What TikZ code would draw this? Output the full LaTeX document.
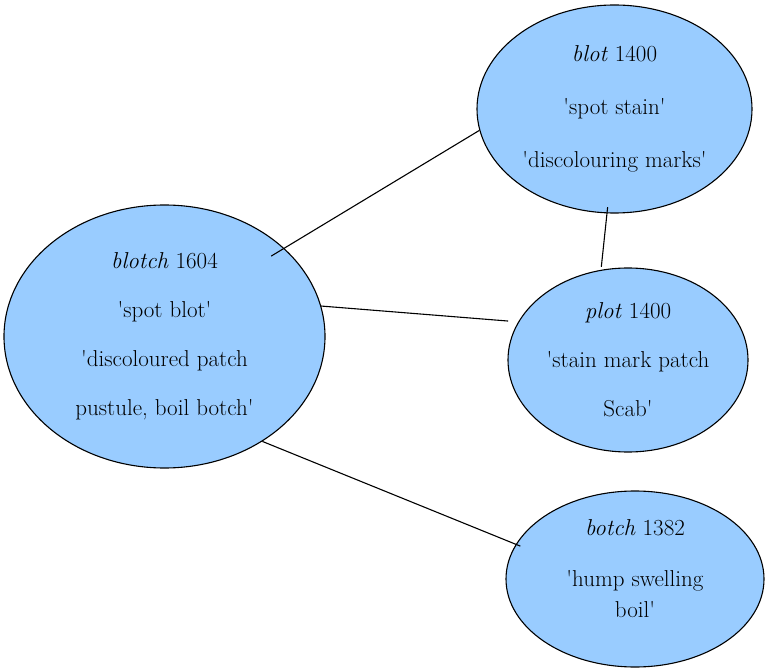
\documentclass[tikz,border=0pt]{standalone}
\usepackage{tikz}
\usepackage{xcolor}
\usetikzlibrary{shapes.geometric, positioning, calc}

\definecolor{wordblue}{HTML}{99CCFF}
\newcommand{\q}{\textquotesingle}

\begin{document}
\begin{tikzpicture}[on grid, line width=1.1pt,
    word/.style={ellipse, draw, fill=wordblue, inner sep=0pt, align=center,
        font=\fontsize{23}{49}\selectfont}]

    \useasboundingbox (-164.5pt,-332.5pt) rectangle (600.5pt,336.5pt);

    \node[word, minimum width=321pt, minimum height=263pt] (blotch)
        {\textit{blotch} 1604\\\q spot blot\q\\\q discoloured patch\\pustule, boil botch\q};
    \node[word, minimum width=275pt, minimum height=208pt,
        font=\fontsize{23}{53}\selectfont,
        above right=227.5pt and 450pt of blotch] (blot)
        {\textit{blot} 1400\\\q spot stain\q\\\q discolouring marks\q};
    \node[word, minimum width=240pt, minimum height=184pt,
        below right=23.5pt and 463.5pt of blotch] (plot)
        {\textit{plot} 1400\\\q stain mark patch\\Scab\q};
    \node[word, minimum width=258pt, minimum height=176pt,
        font=\fontsize{23}{31}\selectfont,
        below right=242.5pt and 470.5pt of blotch] (botch)
        {\textit{botch} 1382\\[20pt]\q hump swelling\\boil\q\\[-11pt]\mbox{}};

    \draw ($(blotch.center)!0.9!(blotch.37)$) -- (blot.189);
    \draw (blotch.11) -- ($(plot.center)!1.08!(plot.162)$);
    \draw ($(blot.center)!0.94!(blot.266)$) -- ($(plot.center)!1.03!(plot.106)$);
    \draw (blotch.313) -- ($(botch.center)!0.96!(botch.164)$);

\end{tikzpicture}
\end{document}
